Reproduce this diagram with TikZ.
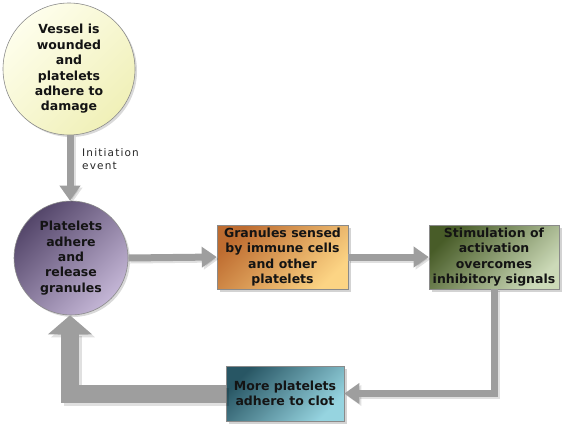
\documentclass[tikz,border=0pt]{standalone}
\usepackage{fontspec}
\setmainfont{DejaVu Sans}
\usetikzlibrary{arrows.meta,shadows,shapes.geometric}
\definecolor{arrowgray}{HTML}{9E9E9E}
\definecolor{txt}{HTML}{141414}
\definecolor{edge}{HTML}{8A8A8A}
\begin{document}
\begin{tikzpicture}[x=1pt,y=-1pt,
  maintext/.style={font=\bfseries\fontsize{12.5}{15.4}\selectfont, text=txt, align=center, inner sep=0pt},
  circ/.style={circle, draw=edge, line width=0.6pt, maintext,
    drop shadow={shadow xshift=2pt, shadow yshift=-2pt, opacity=0.3}},
  boxnode/.style={rectangle, draw=edge, line width=0.6pt, maintext,
    drop shadow={shadow xshift=3pt, shadow yshift=-3pt, opacity=0.35}},
  thinarrow/.style={draw=arrowgray, line width=7pt, -{Triangle[width=20pt,length=15pt]}},
  thinshadow/.style={draw=black, opacity=0.12, line width=7pt, -{Triangle[width=20pt,length=15pt]},
    transform canvas={xshift=2pt,yshift=-2pt}},
  bigarrow/.style={draw=arrowgray, line width=18pt, line join=miter, -{Triangle[width=43pt,length=19pt]}},
  bigshadow/.style={draw=black, opacity=0.12, line width=18pt, line join=miter, -{Triangle[width=43pt,length=19pt]},
    transform canvas={xshift=3pt,yshift=-3pt}},
  lbl/.style={font=\fontsize{10.5}{13}\selectfont\addfontfeature{LetterSpace=11}, text=black!85, align=left, inner sep=0pt}
]
\useasboundingbox (0,0) rectangle (569,431);

\node[circ, minimum size=132pt, top color={rgb,255:red,254;green,254;blue,236}, bottom color={rgb,255:red,240;green,240;blue,184}, shading angle=45] (c1) at (69,69)
  {Vessel is\\wounded\\and\\platelets\\adhere to\\damage};
\node[circ, minimum size=114pt, top color={rgb,255:red,84;green,70;blue,106}, bottom color={rgb,255:red,196;green,182;blue,214}, shading angle=45] (c2) at (71,258)
  {Platelets\\adhere\\and\\release\\granules};
\node[boxnode, minimum width=131pt, minimum height=64pt, top color={rgb,255:red,190;green,108;blue,48}, bottom color={rgb,255:red,252;green,212;blue,132}, shading angle=45] (b1) at (282.5,257)
  {Granules sensed\\by immune cells\\and other\\platelets};
\node[boxnode, minimum width=130pt, minimum height=64pt, top color={rgb,255:red,72;green,92;blue,40}, bottom color={rgb,255:red,204;green,218;blue,184}, shading angle=45] (b2) at (494,257)
  {Stimulation of\\activation\\overcomes\\inhibitory signals};
\node[boxnode, minimum width=118pt, minimum height=55pt, top color={rgb,255:red,40;green,86;blue,100}, bottom color={rgb,255:red,150;green,212;blue,224}, shading angle=45] (b3) at (285,393.5)
  {More platelets\\adhere to clot};

\node[lbl, anchor=west] (l1) at (82,159) {Initiation\\event};

% shadows of arrows
\draw[thinshadow] (c1.south -| 70,0) -- (c2.north -| 70,0);
\draw[thinshadow] (c2.east) -- (b1.west);
\draw[thinshadow] (b1.east) -- (b2.west);
\draw[thinshadow] (b2.south) |- (b3.east);
\draw[bigshadow] (b3.west) -| (c2.south -| 70,0);
% arrows
\draw[thinarrow] (c1.south -| 70,0) -- (c2.north -| 70,0);
\draw[thinarrow] (c2.east) -- (b1.west);
\draw[thinarrow] (b1.east) -- (b2.west);
\draw[thinarrow] (b2.south) |- (b3.east);
\draw[bigarrow] (b3.west) -| (c2.south -| 70,0);
\end{tikzpicture}
\end{document}
